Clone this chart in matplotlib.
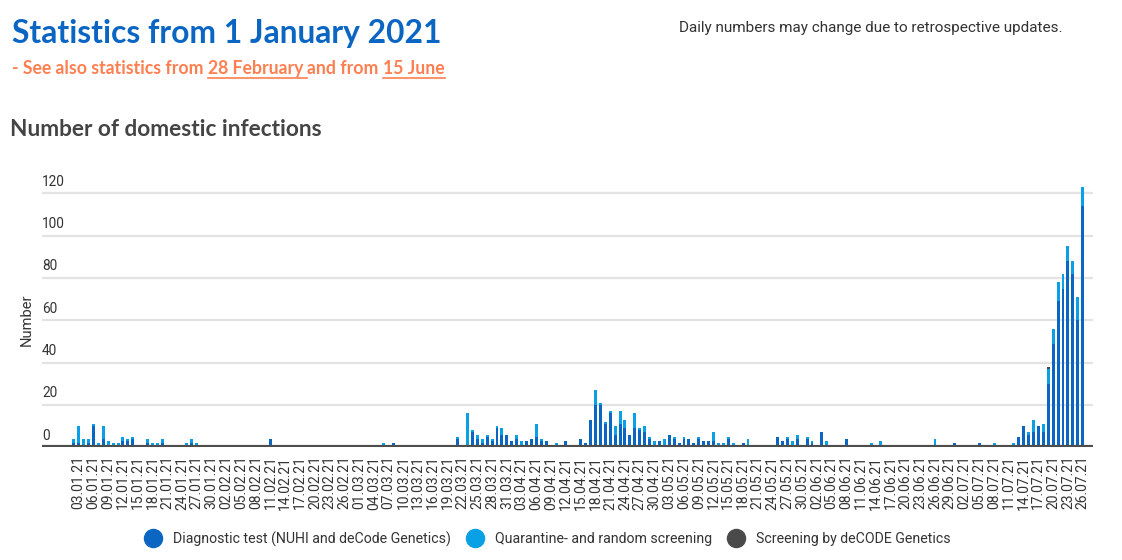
import numpy as np
import pandas as pd
import matplotlib
matplotlib.use("Agg")
import matplotlib.pyplot as plt
from matplotlib.lines import Line2D

# ---------------- data ----------------
start_date = "2021-01-01"
n_days = 207  # 01.01.21 .. 26.07.21

# sparse readings: day index (0 = 01.01.21) -> (diagnostic, quarantine, decode)
readings = {
    1: (2, 2, 0), 2: (2, 8, 0), 3: (1, 3, 0), 4: (2, 2, 0), 5: (10, 1, 0),
    6: (1, 1, 0), 7: (4, 6, 0), 8: (1, 2, 0), 9: (1, 1, 0), 10: (1, 1, 0),
    11: (3, 2, 0), 12: (3, 1, 0), 13: (4, 1, 0), 15: (0, 1, 0), 16: (2, 2, 0),
    17: (1, 1, 0), 18: (1, 1, 0), 19: (2, 2, 0), 21: (1, 0, 0), 22: (0, 1, 0),
    23: (1, 0, 0), 24: (1, 1, 0), 25: (2, 2, 0), 26: (1, 1, 0), 28: (1, 0, 0),
    31: (1, 0, 0), 36: (1, 0, 0), 37: (1, 0, 0), 38: (1, 0, 0), 41: (4, 0, 0),
    48: (0, 1, 0), 50: (0, 1, 0), 56: (1, 0, 0), 63: (1, 0, 0), 64: (1, 1, 0),
    66: (2, 0, 0), 68: (1, 0, 0), 72: (1, 0, 0), 73: (0, 1, 0), 75: (1, 0, 0),
    77: (1, 0, 0), 78: (0, 1, 0), 79: (4, 1, 0), 80: (1, 0, 0), 81: (1, 15, 0),
    82: (7, 1, 0), 83: (4, 2, 0), 84: (2, 2, 0), 85: (5, 1, 0), 86: (3, 1, 0),
    87: (9, 1, 0), 88: (6, 3, 0), 89: (6, 0, 0), 90: (3, 0, 0), 91: (4, 2, 0),
    92: (1, 2, 0), 93: (3, 0, 0), 94: (4, 0, 0), 95: (5, 6, 0), 96: (3, 1, 0),
    97: (3, 0, 0), 98: (1, 0, 0), 99: (1, 1, 0), 100: (1, 0, 0), 101: (3, 0, 0),
    102: (1, 0, 0), 104: (4, 0, 0), 105: (2, 0, 0), 106: (13, 0, 0),
    107: (20, 7, 0), 108: (20, 1, 0), 109: (11, 1, 0), 110: (16, 1, 0),
    111: (6, 4, 0), 112: (11, 6, 0), 113: (9, 4, 0), 114: (6, 0, 0),
    115: (9, 7, 0), 116: (8, 1, 0), 117: (7, 3, 0), 118: (4, 1, 0),
    119: (1, 2, 0), 120: (3, 0, 0), 121: (1, 3, 0), 122: (6, 0, 0),
    123: (4, 1, 0), 124: (2, 0, 0), 125: (4, 1, 0), 126: (4, 0, 0),
    127: (2, 0, 0), 128: (4, 1, 0), 129: (3, 0, 0), 130: (3, 0, 0),
    131: (3, 4, 0), 132: (1, 1, 0), 133: (1, 1, 0), 134: (4, 1, 0),
    135: (0, 2, 0), 137: (2, 0, 0), 138: (1, 3, 0), 143: (1, 0, 0),
    144: (5, 0, 0), 145: (3, 0, 0), 146: (4, 1, 0), 147: (1, 2, 0),
    148: (4, 2, 0), 150: (4, 1, 0), 151: (2, 1, 0), 152: (1, 0, 0),
    153: (7, 0, 0), 154: (1, 2, 0), 155: (1, 0, 0), 158: (4, 0, 0),
    160: (0, 1, 0), 162: (1, 0, 0), 163: (0, 2, 0), 165: (0, 3, 0),
    175: (1, 0, 0), 176: (1, 3, 0), 180: (2, 0, 0), 185: (2, 0, 0),
    187: (1, 0, 0), 188: (1, 1, 0), 190: (1, 0, 0), 192: (1, 1, 0),
    193: (5, 0, 0), 194: (10, 0, 0), 195: (6, 1, 0), 196: (7, 6, 0),
    197: (10, 0, 0), 198: (7, 4, 0), 199: (30, 7, 1), 200: (49, 7, 0),
    201: (69, 9, 0), 202: (75, 7, 0), 203: (88, 7, 0), 204: (82, 6, 0),
    205: (60, 11, 0), 206: (114, 9, 0),
}

series_names = ["Diagnostic test (NUHI and deCode Genetics)",
                "Quarantine- and random screening",
                "Screening by deCODE Genetics"]
series_colors = ["#0a66c2", "#0aa0e6", "#4a4a4a"]

dates = pd.date_range(start_date, periods=n_days, freq="D")
diagnostic = np.array([readings.get(i, (0, 0, 0))[0] for i in range(n_days)])
quarantine = np.array([readings.get(i, (0, 0, 0))[1] for i in range(n_days)])
decode = np.array([readings.get(i, (0, 0, 0))[2] for i in range(n_days)])

y_ticks = [0, 20, 40, 60, 80, 100, 120]

# ---------------- figure ----------------
W, H = 1122, 560
fig = plt.figure(figsize=(W / 100, H / 100), dpi=100)
fig.patch.set_facecolor("white")

ax_left, ax_right = 42 / W, 1093 / W
ax_bottom = (H - 447.3) / H
ax_top = (H - 172.3) / H
ax = fig.add_axes([ax_left, ax_bottom, ax_right - ax_left, ax_top - ax_bottom])

x = np.arange(n_days)
bw = 0.6
ax.bar(x, diagnostic, width=bw, color=series_colors[0], zorder=3)
ax.bar(x, quarantine, width=bw, bottom=diagnostic, color=series_colors[1], zorder=3)
ax.bar(x, decode, width=bw, bottom=diagnostic + quarantine, color=series_colors[2], zorder=3)

ax.set_xlim(-5.45, 208.1)
ax.set_ylim(0, 130)

for s in ax.spines.values():
    s.set_visible(False)
ax.axhline(0, color="#4d4d4d", lw=3, zorder=4)
for v in y_ticks[1:]:
    ax.axhline(v, color="#e3e3e3", lw=1.6, zorder=1)

ax.set_yticks([])
ytrans = ax.get_yaxis_transform()
for v in y_ticks:
    ax.text(0, v + 2.2, str(v), transform=ytrans, ha="left", va="bottom",
            fontsize=9.8, color="#333333", family="Roboto")

tick_idx = np.arange(2, n_days, 3)
ax.set_xticks(tick_idx)
ax.set_xticklabels([dates[i].strftime("%d.%m.%y") for i in tick_idx],
                   rotation=90, fontsize=10, color="#333333", family="Roboto")
ax.tick_params(axis="x", length=0, pad=6)

fig.text(27 / W, (H - 320) / H, "Number", rotation=90, ha="center", va="center",
         fontsize=10.5, color="#333333", family="Roboto")

# ---------------- titles ----------------
fig.text(12 / W, (H - 43) / H, "Statistics from 1 January 2021", ha="left",
         va="baseline", fontsize=22.9, fontweight="bold", color="#0a66c2",
         family="Lato")
fig.text(10 / W, (H - 136) / H, "Number of domestic infections", ha="left",
         va="baseline", fontsize=16.3, fontweight="bold", color="#444444",
         family="Lato")
fig.text(679 / W, (H - 32) / H,
         "Daily numbers may change due to retrospective updates.",
         ha="left", va="baseline", fontsize=11.0, color="#333333", family="Roboto")

fig.canvas.draw()
renderer = fig.canvas.get_renderer()
sub_parts = [("- See also statistics from ", False), ("28 February ", True),
             ("and from ", False), ("15 June", True)]
cx = 12
base_y = (H - 74) / H
for txt, ul in sub_parts:
    t = fig.text(cx / W, base_y, txt, ha="left", va="baseline", fontsize=12.7,
                 fontweight="bold", color="#ff7f50", family="Lato")
    bb = t.get_window_extent(renderer)
    if ul:
        uy = base_y - 3.5 / H
        fig.add_artist(Line2D([bb.x0 / W, bb.x1 / W], [uy, uy], color="#ff7f50",
                              lw=1.2, transform=fig.transFigure))
    cx = bb.x1

# ---------------- legend ----------------
handles = [Line2D([], [], marker="o", linestyle="none", markersize=13,
                  markerfacecolor=c, markeredgecolor=c) for c in series_colors]
fig.legend(handles, series_names, loc="center", bbox_to_anchor=(0.4885, (H - 539) / H),
           ncol=3, frameon=False, handletextpad=0.9, columnspacing=1.2,
           prop={"family": "Roboto", "size": 10.2}, labelcolor="#333333",
           handlelength=1.0)

fig.savefig("out.png", dpi=100, facecolor="white")
